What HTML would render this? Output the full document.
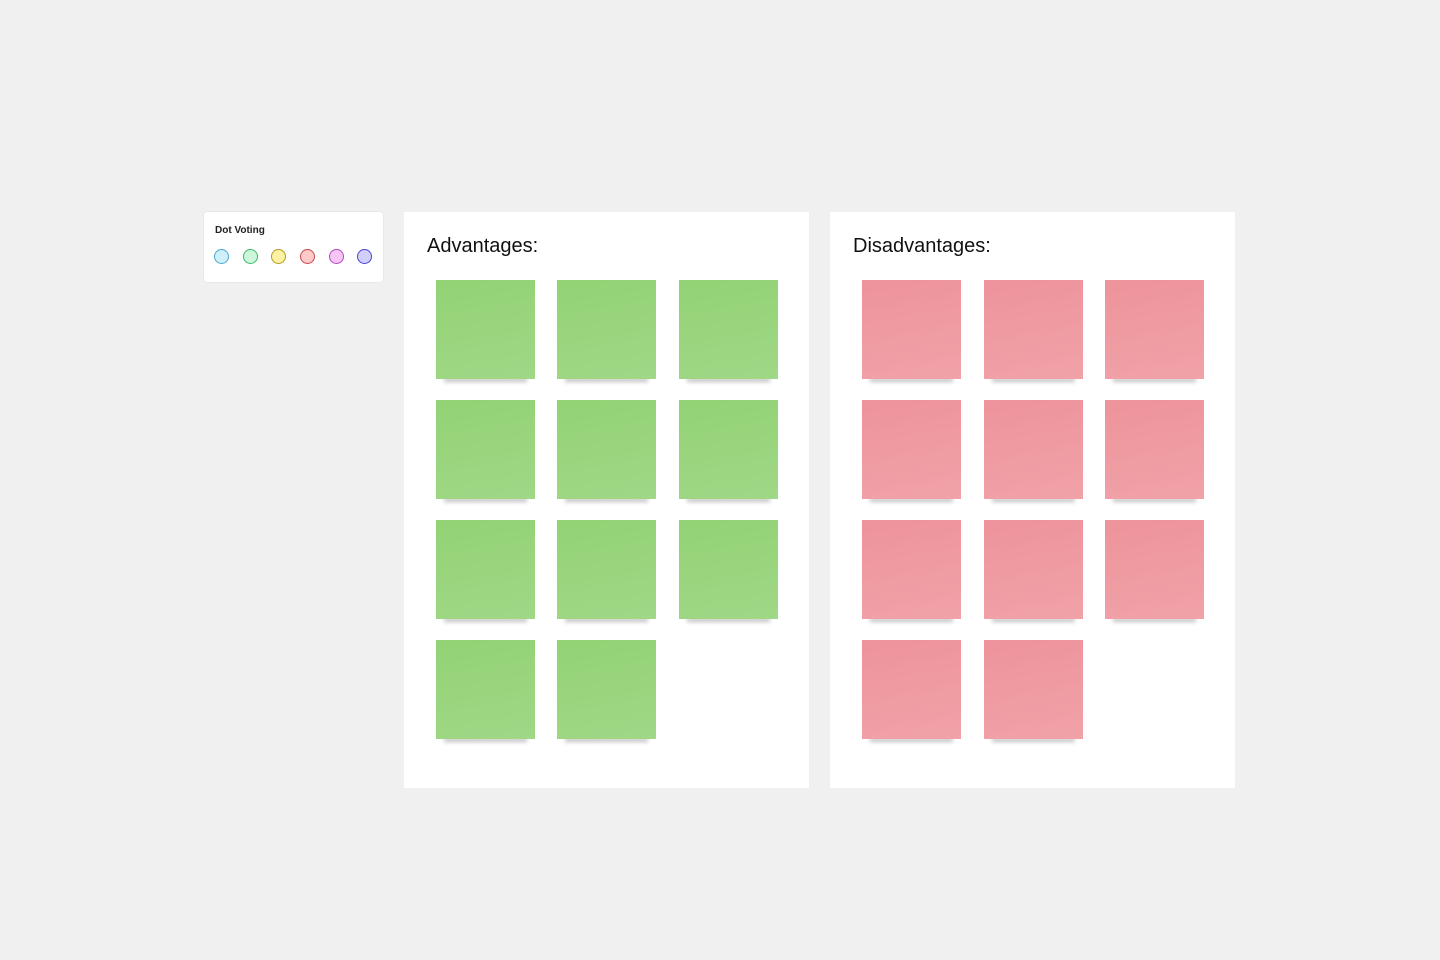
<!DOCTYPE html>
<html><head><style>
body{margin:0;width:1440px;height:960px;background:#f0f0f0;position:relative;overflow:hidden;font-family:"Liberation Sans",sans-serif}
.card{position:absolute;left:204px;top:212px;width:179px;height:70px;background:#fff;border-radius:3px;box-shadow:0 0 1px rgba(0,0,0,.2)}
.card .t{position:absolute;left:11px;top:13px;font-size:10px;font-weight:bold;color:#222}
.dot{position:absolute;top:37px;width:13px;height:13px;border-radius:50%;border:1.5px solid}
.panel{position:absolute;top:212px;width:405px;height:576px;background:#fff}
.panel h1{position:absolute;left:23px;top:23px;margin:0;font-weight:normal;font-size:20px;color:#111}
.s{position:absolute;width:99px;height:99px}
.s::after{content:"";position:absolute;left:8px;right:8px;bottom:-3px;height:4px;background:rgba(0,0,0,.25);filter:blur(2px);z-index:-1}
.g{background:linear-gradient(170deg,#93d275,#9fd886)}
.p{background:linear-gradient(170deg,#ee939b,#f0a2a8)}
</style></head><body>
<div class="card"><div class="t">Dot Voting</div>
<div class="dot" style="left:10px;background:#cdf0fb;border-color:#4aa8d0"></div>
<div class="dot" style="left:39px;background:#cdf7da;border-color:#3cb865"></div>
<div class="dot" style="left:67px;background:#fdf1a4;border-color:#b59a1c"></div>
<div class="dot" style="left:96px;background:#fdc9c9;border-color:#c84848"></div>
<div class="dot" style="left:125px;background:#f7c6f7;border-color:#b447c4"></div>
<div class="dot" style="left:153px;background:#d2d0fb;border-color:#4a42d6"></div>
</div>
<div class="panel" style="left:404px"><h1>Advantages:</h1></div>
<div class="panel" style="left:830px"><h1>Disadvantages:</h1></div>
<div style="position:absolute;left:0;top:0;z-index:1">
<div class="s g" style="left:436px;top:280px"></div><div class="s g" style="left:557px;top:280px"></div><div class="s g" style="left:679px;top:280px"></div>
<div class="s g" style="left:436px;top:400px"></div><div class="s g" style="left:557px;top:400px"></div><div class="s g" style="left:679px;top:400px"></div>
<div class="s g" style="left:436px;top:520px"></div><div class="s g" style="left:557px;top:520px"></div><div class="s g" style="left:679px;top:520px"></div>
<div class="s g" style="left:436px;top:640px"></div><div class="s g" style="left:557px;top:640px"></div>
<div class="s p" style="left:862px;top:280px"></div><div class="s p" style="left:984px;top:280px"></div><div class="s p" style="left:1105px;top:280px"></div>
<div class="s p" style="left:862px;top:400px"></div><div class="s p" style="left:984px;top:400px"></div><div class="s p" style="left:1105px;top:400px"></div>
<div class="s p" style="left:862px;top:520px"></div><div class="s p" style="left:984px;top:520px"></div><div class="s p" style="left:1105px;top:520px"></div>
<div class="s p" style="left:862px;top:640px"></div><div class="s p" style="left:984px;top:640px"></div>
</div>
</body></html>
